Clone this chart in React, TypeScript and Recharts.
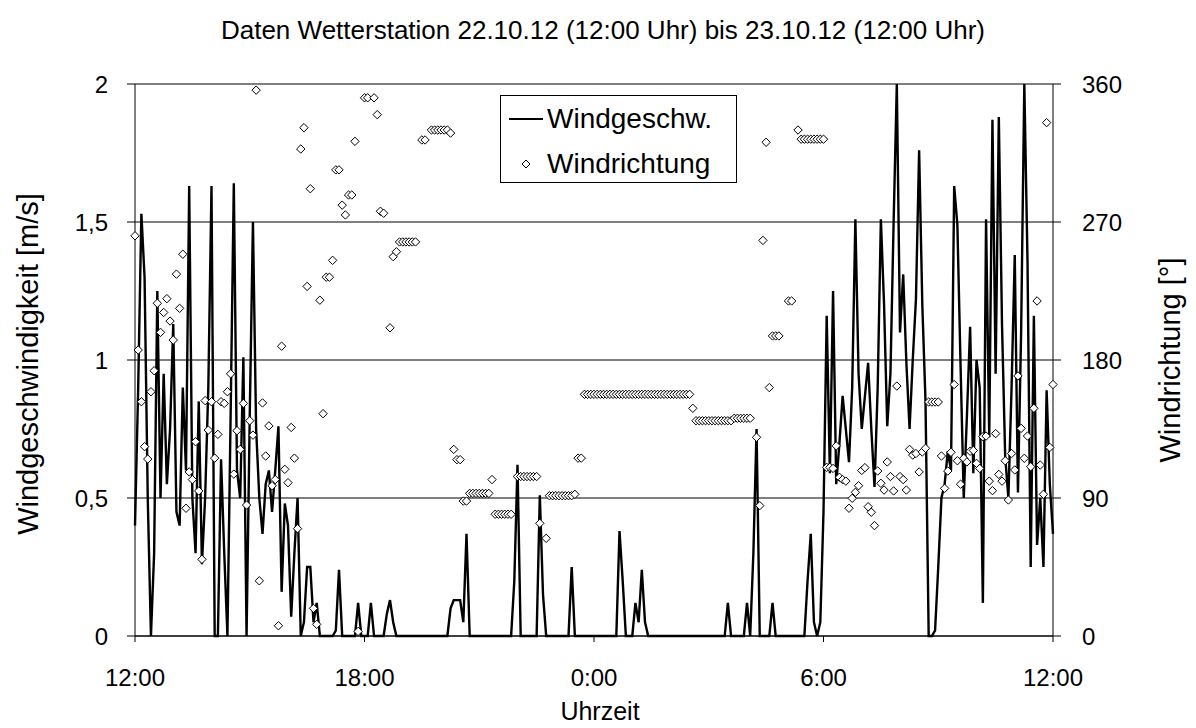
import React from 'react';
import { ComposedChart, Line, XAxis, YAxis, CartesianGrid } from 'recharts';

const TITLE = 'Daten Wetterstation 22.10.12 (12:00 Uhr) bis 23.10.12 (12:00 Uhr)';
const LEFT_TITLE = 'Windgeschwindigkeit [m/s]';
const RIGHT_TITLE = 'Windrichtung [°]';
const X_TITLE = 'Uhrzeit';
const SERIES_SPEED = 'Windgeschw.';
const SERIES_DIR = 'Windrichtung';

const X_TICKS = [0, 360, 720, 1080, 1440];
const X_TICK_LABELS = ['12:00', '18:00', '0:00', '6:00', '12:00'];
const LEFT_TICKS = [0, 0.5, 1, 1.5, 2];
const RIGHT_TICKS = [0, 90, 180, 270, 360];
const STEP_MIN = 5;

// wind speed [m/s], one value every 5 minutes, rows = one hour from 12:00
const windSpeed: number[] = [
  0.4, 0.9, 1.53, 1.3, 0.5, 0, 0.3, 1.25, 0.5, 0.95, 0.55, 0.75,
  1.13, 0.45, 0.4, 0.9, 0.6, 1.63, 0.5, 0.3, 0.85, 0.26, 0.5, 0.9,
  1.63, 0, 0, 0.64, 0.3, 0, 0.8, 1.64, 0.6, 0.5, 1.01, 0,
  0.8, 1.5, 0.75, 0.5, 0.37, 0.55, 0.6, 0.45, 0.6, 0.76, 0.16, 0.48,
  0.4, 0.07, 0.3, 0.5, 0, 0.05, 0.25, 0.25, 0.05, 0.12, 0, 0,
  0, 0, 0, 0.02, 0.24, 0, 0, 0, 0, 0, 0.12, 0,
  0, 0, 0.12, 0, 0, 0, 0, 0.08, 0.13, 0.05, 0, 0,
  0, 0, 0, 0, 0, 0, 0, 0, 0, 0, 0, 0,
  0, 0, 0, 0.1, 0.13, 0.13, 0.13, 0.05, 0.37, 0, 0, 0,
  0, 0, 0, 0, 0, 0, 0, 0, 0, 0, 0, 0.2,
  0.62, 0, 0, 0, 0, 0, 0, 0.51, 0.15, 0, 0, 0,
  0, 0, 0, 0, 0, 0.25, 0, 0, 0, 0, 0, 0,
  0, 0, 0, 0, 0, 0, 0, 0, 0.38, 0.2, 0, 0,
  0, 0.12, 0.05, 0.24, 0.05, 0, 0, 0, 0, 0, 0, 0,
  0, 0, 0, 0, 0, 0, 0, 0, 0, 0, 0, 0,
  0, 0, 0, 0, 0, 0, 0.12, 0, 0, 0, 0, 0,
  0.12, 0, 0.3, 0.75, 0, 0, 0, 0, 0.12, 0, 0, 0,
  0, 0, 0, 0, 0, 0, 0, 0.2, 0.37, 0.05, 0, 0.05,
  0.45, 1.16, 0.59, 1.25, 0.55, 0.7, 0.87, 0.75, 0.63, 0.9, 1.51, 0.95,
  0.75, 0.87, 0.99, 0.75, 0.54, 0.9, 1.51, 1.2, 0.76, 0.95, 1.5, 2.0,
  1.1, 1.31, 0.99, 0.75, 1.0, 1.22, 1.76, 1.2, 0.85, 0, 0, 0.02,
  0.25, 0.5, 0.55, 0.67, 0.6, 1.63, 1.49, 0.98, 0.5, 0.8, 1.12, 0.59,
  1.0, 0.9, 0.12, 1.51, 0.72, 1.87, 0.95, 1.88, 1.13, 0.65, 0.5, 0.9,
  1.38, 0.52, 1.1, 2.0, 1.36, 0.25, 1.16, 0.33, 0.5, 0.25, 0.89, 0.55,
  0.37,
];

// wind direction [°], same 5-minute grid
const windDir: (number | null)[] = [
  261, 186.5, 152.8, 123.5, 115.4, 159.3, 173, 217, 198, 211, 220, 205.4,
  193, 236, 213.7, 249, 83.3, 107, 102, 126.7, 94.6, 50, 153.5, 134.3,
  152.8, 116, 131.5, 152.8, 151.7, 159.3, 171, 105.6, 133.9, 121.7, 151.7, 85.4,
  140.4, 131, 356, 36, 152, 117.4, 137, 98, 102, 6.7, 189, 108.7,
  100, 136, 116, 70, 317.6, 331.5, 228, 291.7, 18, 7.6, 219, 145,
  234, 234, 245, 304, 304, 281, 274.6, 287.6, 287.6, 322.6, 3, null,
  351, 351, null, 351, 340, 277, 275.7, null, 201, 247.4, 250.6, 257,
  257, 257, 257, 257, 257, null, 323.5, 323.5, null, 330, 330, 330,
  330, 330, 330, 328, 121.7, 115, 115, 88, 88, 93, 93, 93,
  93, 93, 93, 93, 102, 79.4, 79.4, 79.4, 79.4, 79.4, 79.4, null,
  104, 104, 104, 104, 104, 104, 104, 73.5, null, 63.7, 91.5, 91.5,
  91.5, 91.5, 91.5, 91.5, 91.5, 91.5, 92.4, 116, 116, 157.6, 157.6, 157.6,
  157.6, 157.6, 157.6, 157.6, 157.6, 157.6, 157.6, 157.6, 157.6, 157.6, 157.6, 157.6,
  157.6, 157.6, 157.6, 157.6, 157.6, 157.6, 157.6, 157.6, 157.6, 157.6, 157.6, 157.6,
  157.6, 157.6, 157.6, 157.6, 157.6, 157.6, 157.6, 148.5, 140.4, 140.4, 140.4, 140.4,
  140.4, 140.4, 140.4, 140.4, 140.4, 140.4, 140.4, 140.4, 142, 142, 142, 142,
  142, 142, null, 129.6, 85, 258, 322, 162, 195.7, 195.7, 195.7, null,
  null, 218.5, 218.5, null, 330, 324, 324, 324, 324, 324, 324, 324,
  324, 110, 110, 109.3, 124, 103.5, 102, 101, 83.3, 89.8, 93.7, 98,
  108, 109.8, 84.3, 80.7, 72, 107.6, 99.6, 95.2, 113.5, 104, 94.6, 163,
  104, 102, 95.2, 121.7, 118, 119, 107, 120, 122.4, 152.6, 152.6, 152.6,
  152.6, 117.4, 96.3, 107.6, 119.8, 164, 114.3, 99, 115.9, 113.5, 120.5, 121,
  112.6, 109.3, 130, 130.4, 101, 94.8, 132, 105.4, 101, 114.3, 88.7, 119,
  108.3, 169.6, 135.4, 115.9, 130.4, 110.4, 148.5, 218.5, 111.5, 92.4, 334.8, 123,
  164,
];

const data = windSpeed.map((v, i) => ({ t: i * STEP_MIN, speed: v, dir: windDir[i] }));

const FONT = '"Liberation Sans", Arial, sans-serif';

const Diamond = (props: any) => {
  const { cx, cy, index, value } = props;
  if (cx == null || cy == null || value == null || Number.isNaN(cy)) return <g key={`dd${index}`} />;
  const r = 4.2;
  return (
    <path
      key={`dd${index}`}
      d={`M${cx},${cy - r}L${cx + r},${cy}L${cx},${cy + r}L${cx - r},${cy}Z`}
      fill="#fff"
      stroke="#000"
      strokeWidth={1}
    />
  );
};

export default function App() {
  const tickStyle = { fill: '#000', fontSize: 24, fontFamily: FONT };
  return (
    <div style={{ position: 'relative', width: 1180, height: 712, fontFamily: FONT, background: '#fff' }}>
      <ComposedChart
        width={1180}
        height={712}
        data={data}
        margin={{ top: 76, right: 55, left: 47, bottom: 24 }}
      >
        <CartesianGrid yAxisId="l" vertical={false} stroke="#000" strokeWidth={1} />
        <XAxis
          dataKey="t"
          type="number"
          domain={[0, 1440]}
          ticks={X_TICKS}
          interval={0}
          tickFormatter={(v: number) => X_TICK_LABELS[X_TICKS.indexOf(v)]}
          stroke="#000"
          tick={tickStyle}
          tickSize={6}
          tickMargin={27}
          height={60}
        />
        <YAxis
          yAxisId="l"
          domain={[0, 2]}
          ticks={LEFT_TICKS}
          interval={0}
          tickFormatter={(v: number) => String(v).replace('.', ',')}
          stroke="#000"
          tick={tickStyle}
          tickSize={8}
          tickMargin={19}
          width={80}
        />
        <YAxis
          yAxisId="r"
          orientation="right"
          domain={[0, 360]}
          ticks={RIGHT_TICKS}
          interval={0}
          stroke="#000"
          tick={tickStyle}
          tickSize={8}
          tickMargin={21}
          width={80}
        />
        <Line
          yAxisId="l"
          dataKey="speed"
          type="linear"
          stroke="#000"
          strokeWidth={2.4}
          dot={false}
          activeDot={false}
          isAnimationActive={false}
        />
        <Line
          yAxisId="r"
          dataKey="dir"
          type="linear"
          stroke="none"
          dot={Diamond}
          activeDot={false}
          connectNulls={false}
          isAnimationActive={false}
        />
      </ComposedChart>

      <div style={{ position: 'absolute', left: 95, width: 1000, top: 8, textAlign: 'center', fontSize: 26, lineHeight: '28px', color: '#000' }}>
        {TITLE}
      </div>
      <div style={{ position: 'absolute', left: 20, top: 356, width: 0, height: 0 }}>
        <div style={{ position: 'absolute', transform: 'translate(-50%, -50%) rotate(-90deg)', whiteSpace: 'nowrap', fontSize: 29, lineHeight: '30px' }}>
          {LEFT_TITLE}
        </div>
      </div>
      <div style={{ position: 'absolute', left: 1162, top: 352, width: 0, height: 0 }}>
        <div style={{ position: 'absolute', transform: 'translate(-50%, -50%) rotate(-90deg)', whiteSpace: 'nowrap', fontSize: 29, lineHeight: '30px' }}>
          {RIGHT_TITLE}
        </div>
      </div>
      <div style={{ position: 'absolute', left: 392, width: 400, top: 690, textAlign: 'center', fontSize: 25, lineHeight: '27px' }}>
        {X_TITLE}
      </div>

      <div style={{ position: 'absolute', left: 492, top: 87, width: 235, height: 86, border: '1px solid #000', background: '#fff', fontSize: 28 }}>
        <div style={{ position: 'absolute', left: 8, top: 8, display: 'flex', alignItems: 'center', height: 30 }}>
          <svg width={34} height={10}><line x1={0} y1={5} x2={34} y2={5} stroke="#000" strokeWidth={2} /></svg>
          <span style={{ marginLeft: 4 }}>{SERIES_SPEED}</span>
        </div>
        <div style={{ position: 'absolute', left: 8, top: 53, display: 'flex', alignItems: 'center', height: 30 }}>
          <svg width={34} height={10}><path d="M17,1L21,5L17,9L13,5Z" fill="#fff" stroke="#000" strokeWidth={1} /></svg>
          <span style={{ marginLeft: 4 }}>{SERIES_DIR}</span>
        </div>
      </div>
    </div>
  );
}
